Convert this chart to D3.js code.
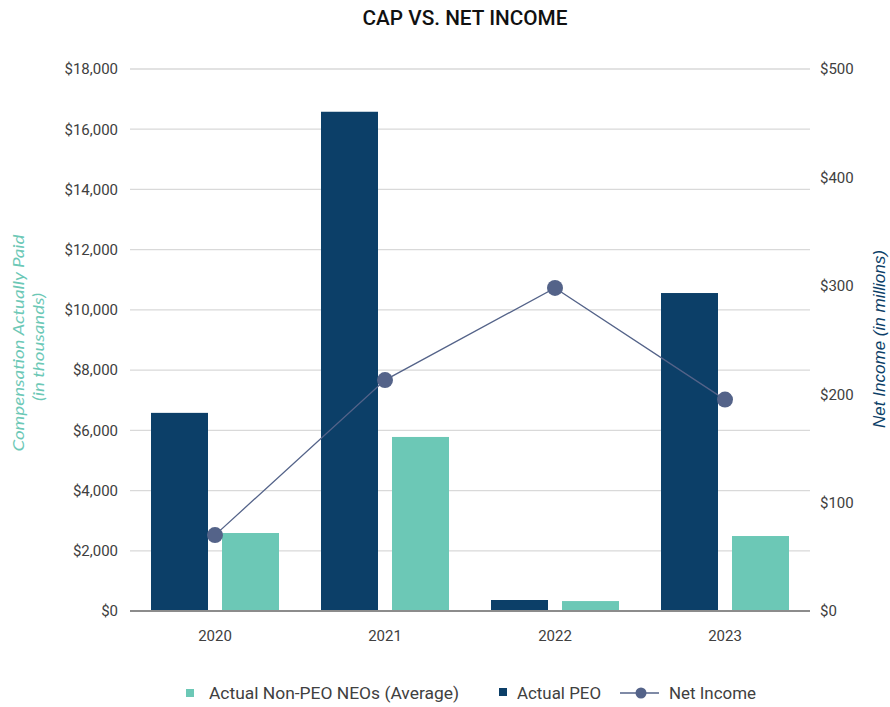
<!DOCTYPE html>
<html>
<head>
<meta charset="utf-8">
<script src="https://cdn.jsdelivr.net/npm/d3@7"></script>
<style>
  body { margin: 0; background: #fff; }
  svg { display: block; font-family: Roboto, "Noto Sans", sans-serif; }
</style>
</head>
<body>
<svg id="chart" width="890" height="707"></svg>
<script>
// Compensation actually paid (thousands) and net income (millions) by year
const years = ["2020", "2021", "2022", "2023"];
const peoCap = [6580, 16580, 365, 10560];
const neoCap = [2590, 5780, 330, 2490];
const netIncome = [70, 213, 298, 195];
const leftTicks = [0, 2000, 4000, 6000, 8000, 10000, 12000, 14000, 16000, 18000];
const rightTicks = [0, 100, 200, 300, 400, 500];

const colors = { peo: "#0c3f68", neo: "#6cc8b6", line: "#546389", grid: "#d9d9d9", axis: "#8c8c8c", text: "#404040" };

const svg = d3.select("#chart");
const m = { left: 130, right: 810, top: 69, bottom: 611 };

const x = d3.scaleBand().domain(years).range([m.left, m.right]);
const yL = d3.scaleLinear().domain([0, 18000]).range([m.bottom, m.top]);
const yR = d3.scaleLinear().domain([0, 500]).range([m.bottom, m.top]);

// Title
svg.append("text")
  .attr("x", 465).attr("y", 25)
  .attr("text-anchor", "middle")
  .attr("font-size", 20).attr("font-weight", 500)
  .attr("fill", "#111")
  .attr("textLength", 205).attr("lengthAdjust", "spacingAndGlyphs")
  .text("CAP VS. NET INCOME");

// Gridlines
svg.append("g").selectAll("line").data(leftTicks.slice(1)).join("line")
  .attr("x1", m.left).attr("x2", m.right)
  .attr("y1", d => yL(d)).attr("y2", d => yL(d))
  .attr("stroke", colors.grid).attr("stroke-width", 1.3);

// Left axis
const leftAxis = svg.append("g").attr("transform", `translate(${m.left - 12},0)`)
  .call(d3.axisLeft(yL).tickValues(leftTicks).tickSize(0).tickPadding(0)
    .tickFormat(d => "$" + d3.format(",")(d)));
leftAxis.select(".domain").remove();
leftAxis.selectAll("text").attr("font-size", 15).attr("fill", colors.text)
  .attr("font-family", "Roboto, sans-serif");

// Right axis
const rightAxis = svg.append("g").attr("transform", `translate(${m.right + 10},0)`)
  .call(d3.axisRight(yR).tickValues(rightTicks).tickSize(0).tickPadding(0)
    .tickFormat(d => "$" + d));
rightAxis.select(".domain").remove();
rightAxis.selectAll("text").attr("font-size", 15).attr("fill", colors.text)
  .attr("font-family", "Roboto, sans-serif");

// Bars
const barW = 57, gap = 14;
const groups = svg.append("g").selectAll("g").data(years).join("g");
groups.append("rect")
  .attr("x", d => x(d) + x.bandwidth() / 2 - gap / 2 - barW)
  .attr("width", barW)
  .attr("y", (d, i) => yL(peoCap[i]))
  .attr("height", (d, i) => yL(0) - yL(peoCap[i]))
  .attr("fill", colors.peo);
groups.append("rect")
  .attr("x", d => x(d) + x.bandwidth() / 2 + gap / 2)
  .attr("width", barW)
  .attr("y", (d, i) => yL(neoCap[i]))
  .attr("height", (d, i) => yL(0) - yL(neoCap[i]))
  .attr("fill", colors.neo);

// Baseline
svg.append("line")
  .attr("x1", m.left).attr("x2", m.right)
  .attr("y1", yL(0)).attr("y2", yL(0))
  .attr("stroke", colors.axis).attr("stroke-width", 2);

// Year labels
const bottomAxis = svg.append("g").attr("transform", `translate(0,${m.bottom + 19})`)
  .call(d3.axisBottom(x).tickSize(0).tickPadding(0));
bottomAxis.select(".domain").remove();
bottomAxis.selectAll("text").attr("font-size", 15).attr("fill", colors.text)
  .attr("font-family", "Roboto, sans-serif");

// Net income line
const pts = years.map((d, i) => [x(d) + x.bandwidth() / 2, yR(netIncome[i])]);
svg.append("path")
  .attr("d", d3.line()(pts))
  .attr("fill", "none").attr("stroke", colors.line).attr("stroke-width", 1.3);
svg.append("g").selectAll("circle").data(pts).join("circle")
  .attr("cx", d => d[0]).attr("cy", d => d[1]).attr("r", 8)
  .attr("fill", colors.line);

// Axis titles
const leftTitle = svg.append("text")
  .attr("transform", "translate(0,343) rotate(-90)")
  .attr("text-anchor", "middle").attr("font-size", 16).attr("font-style", "italic")
  .attr("fill", colors.neo)
  .attr("font-family", "Lato, sans-serif");
leftTitle.append("tspan").attr("x", 0).attr("y", 24)
  .attr("textLength", 217).attr("lengthAdjust", "spacingAndGlyphs")
  .text("Compensation Actually Paid");
leftTitle.append("tspan").attr("x", -4).attr("y", 44)
  .attr("textLength", 108).attr("lengthAdjust", "spacingAndGlyphs")
  .text("(in thousands)");

svg.append("text")
  .attr("transform", "translate(885,339) rotate(-90)")
  .attr("text-anchor", "middle").attr("font-size", 16).attr("font-style", "italic")
  .attr("fill", colors.peo)
  .attr("font-family", "Liberation Sans, Arial, sans-serif")
  .attr("textLength", 178).attr("lengthAdjust", "spacingAndGlyphs")
  .text("Net Income (in millions)");

// Legend
const lg = svg.append("g").attr("font-size", 16).attr("fill", colors.text);
lg.append("rect").attr("x", 186).attr("y", 689).attr("width", 8).attr("height", 8).attr("fill", colors.neo);
lg.append("text").attr("x", 209).attr("y", 699).attr("fill", colors.text)
  .attr("textLength", 250).attr("lengthAdjust", "spacingAndGlyphs")
  .text("Actual Non-PEO NEOs (Average)");
lg.append("rect").attr("x", 499).attr("y", 688).attr("width", 8).attr("height", 8).attr("fill", colors.peo);
lg.append("text").attr("x", 517).attr("y", 699).attr("fill", colors.text)
  .attr("textLength", 84).attr("lengthAdjust", "spacingAndGlyphs")
  .text("Actual PEO");
lg.append("line").attr("x1", 620).attr("x2", 659).attr("y1", 693).attr("y2", 693)
  .attr("stroke", colors.line).attr("stroke-width", 1.5);
lg.append("circle").attr("cx", 641).attr("cy", 693).attr("r", 5.5).attr("fill", colors.line);
lg.append("text").attr("x", 669).attr("y", 699).attr("fill", colors.text)
  .attr("textLength", 87).attr("lengthAdjust", "spacingAndGlyphs")
  .text("Net Income");
</script>
</body>
</html>
